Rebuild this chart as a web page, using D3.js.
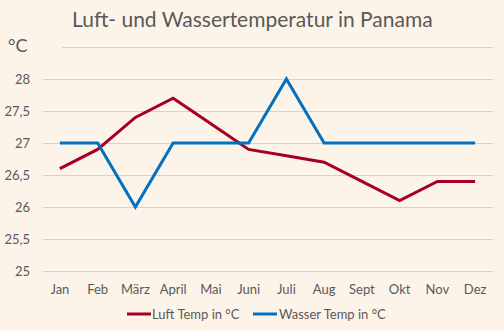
<!DOCTYPE html>
<html><head><meta charset="utf-8">
<script src="https://cdn.jsdelivr.net/npm/d3@7"></script>
<style>body{margin:0;background:#FDF4E9;} svg{display:block;} text{font-family:Lato,"Open Sans",sans-serif;}</style>
</head><body>
<svg id="c" width="504" height="331"></svg>
<script>
const months = ["Jan","Feb","März","April","Mai","Juni","Juli","Aug","Sept","Okt","Nov","Dez"];
const luftTemp = [26.6,26.9,27.4,27.7,27.3,26.9,26.8,26.7,26.4,26.1,26.4,26.4];
const wasserTemp = [27,27,26,27,27,27,28,27,27,27,27,27];
const yTicks = [25,25.5,26,26.5,27,27.5,28,28.5];
const yTickLabels = ["25","25,5","26","26,5","27","27,5","28",""];
const seriesNames = ["Luft Temp in °C","Wasser Temp in °C"];
const colors = ["#A50021","#0070C0"];

const svg = d3.select("#c");
svg.append("rect").attr("width",504).attr("height",331).attr("fill","#FDF4E9");
const x = d3.scaleBand().domain(months).range([41,494]);
const y = d3.scaleLinear().domain([25,28.5]).range([271,47]);

// gridlines
svg.append("g").selectAll("line").data(yTicks).join("line")
  .attr("x1",d=>d===28.5?62:43).attr("x2",493)
  .attr("y1",d=>Math.round(y(d))+0.5).attr("y2",d=>Math.round(y(d))+0.5)
  .attr("stroke","#D9D1CD").attr("stroke-width",1);

// y labels
const yAxis = d3.axisLeft(y).tickValues(yTicks).tickFormat((d,i)=>yTickLabels[i]).tickSize(0).tickPadding(0);
const gy = svg.append("g").attr("transform","translate(30,0)").call(yAxis);
gy.select(".domain").remove();
gy.selectAll("text").attr("fill","#595959").style("font-size","13px").attr("dy","0.35em");

// x labels
const xAxis = d3.axisBottom(x).tickSize(0).tickPadding(0);
const gx = svg.append("g").attr("transform","translate(0,283)").call(xAxis);
gx.select(".domain").remove();
gx.selectAll("text").attr("fill","#595959").style("font-size","13px").attr("dy","0.35em").attr("y",6);

// lines
const line = d3.line().x((d,i)=>x(months[i])+x.bandwidth()/2).y(d=>y(d));
[luftTemp, wasserTemp].forEach((s,k)=>{
  svg.append("path").datum(s).attr("d",line).attr("fill","none")
    .attr("stroke",colors[k]).attr("stroke-width",3).attr("stroke-linejoin","miter");
});

// title
svg.append("text").attr("x",72).attr("y",27).text("Luft- und Wassertemperatur in Panama")
  .attr("fill","#595959").style("font-size","21px");
svg.append("text").attr("x",8).attr("y",52).text("°C")
  .attr("fill","#595959").style("font-size","18px");

// legend
const leg = [{x:127,tx:152},{x:253,tx:279}];
leg.forEach((l,k)=>{
  svg.append("line").attr("x1",l.x).attr("x2",l.x+24).attr("y1",314).attr("y2",314)
    .attr("stroke",colors[k]).attr("stroke-width",3);
  svg.append("text").attr("x",l.tx).attr("y",314).attr("dy","0.35em").text(seriesNames[k])
    .attr("fill","#595959").style("font-size","13px");
});
</script>
</body></html>
